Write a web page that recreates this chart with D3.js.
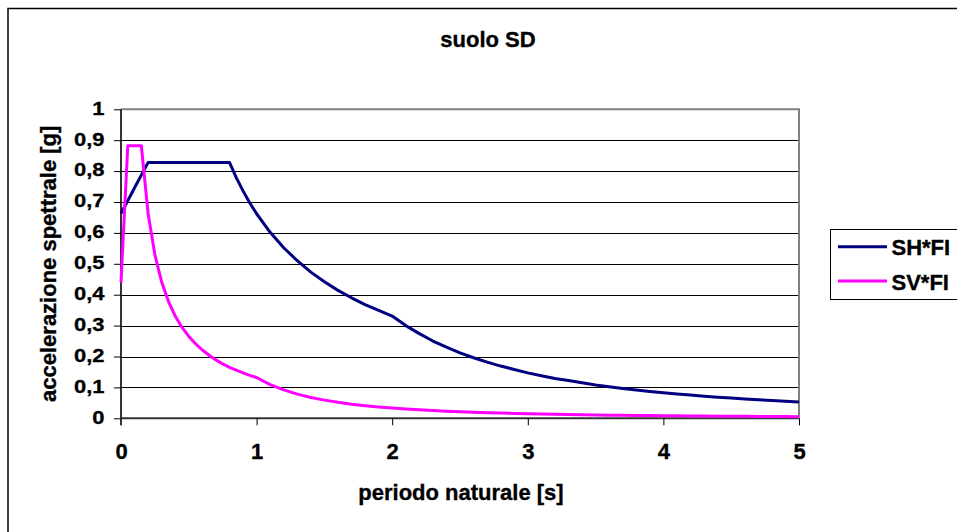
<!DOCTYPE html>
<html>
<head>
<meta charset="utf-8">
<script src="https://cdn.jsdelivr.net/npm/d3@7"></script>
<style>
  html, body { margin: 0; padding: 0; background: #ffffff; }
  svg { display: block; }
  text { font-family: "Liberation Sans", Arial, sans-serif; font-weight: bold; fill: #000; stroke: #000; stroke-width: 0.35px; }
</style>
</head>
<body>
<svg id="chart" width="957" height="532"></svg>
<script>
// ---- data ----
const periods = [0, 0.05, 0.1, 0.15, 0.2, 0.25, 0.3, 0.35, 0.4, 0.45, 0.5, 0.55, 0.6, 0.65, 0.7, 0.75, 0.8, 0.85, 0.9, 0.95, 1.0,
  1.1, 1.2, 1.3, 1.4, 1.5, 1.6, 1.7, 1.8, 1.9, 2.0,
  2.1, 2.2, 2.3, 2.4, 2.5, 2.6, 2.7, 2.8, 2.9, 3.0,
  3.1, 3.2, 3.3, 3.4, 3.5, 3.6, 3.7, 3.8, 3.9, 4.0,
  4.1, 4.2, 4.3, 4.4, 4.5, 4.6, 4.7, 4.8, 4.9, 5.0];

const shFI = [0.663, 0.704, 0.746, 0.787, 0.828, 0.828, 0.828, 0.828, 0.828, 0.828, 0.828, 0.828, 0.828, 0.828, 0.828, 0.828, 0.828, 0.779, 0.736, 0.697, 0.662,
  0.602, 0.552, 0.510, 0.473, 0.442, 0.414, 0.390, 0.368, 0.349, 0.331,
  0.300, 0.274, 0.250, 0.230, 0.212, 0.196, 0.182, 0.169, 0.158, 0.147,
  0.138, 0.129, 0.122, 0.115, 0.108, 0.102, 0.0968, 0.0917, 0.0871, 0.0828,
  0.0788, 0.0751, 0.0716, 0.0684, 0.0654, 0.0626, 0.0600, 0.0575, 0.0552, 0.0530];

const svFI = [0.440, 0.882, 0.882, 0.882, 0.662, 0.529, 0.441, 0.378, 0.331, 0.294, 0.265, 0.241, 0.221, 0.204, 0.189, 0.176, 0.165, 0.156, 0.147, 0.139, 0.132,
  0.109, 0.0919, 0.0783, 0.0675, 0.0588, 0.0517, 0.0458, 0.0408, 0.0366, 0.0331,
  0.0300, 0.0273, 0.0250, 0.0230, 0.0212, 0.0196, 0.0181, 0.0169, 0.0157, 0.0147,
  0.0138, 0.0129, 0.0121, 0.0114, 0.0108, 0.0102, 0.0097, 0.0092, 0.0087, 0.0083,
  0.0079, 0.0075, 0.0072, 0.0068, 0.0065, 0.0063, 0.0060, 0.0057, 0.0055, 0.0053];

const seriesNames = ["SH*FI", "SV*FI"];
const seriesColors = ["#000080", "#ff00ff"];
const xTicks = [0, 1, 2, 3, 4, 5];
const yTicks = [0, 0.1, 0.2, 0.3, 0.4, 0.5, 0.6, 0.7, 0.8, 0.9, 1];
const yTickLabels = ["0", "0,1", "0,2", "0,3", "0,4", "0,5", "0,6", "0,7", "0,8", "0,9", "1"];
const titleText = "suolo SD";
const xTitle = "periodo naturale [s]";
const yTitle = "accelerazione spettrale [g]";

// ---- layout ----
const svg = d3.select("#chart");
const plot = { left: 121, right: 799, top: 109.3, bottom: 418.3 };
const x = d3.scaleLinear().domain([0, 5]).range([plot.left, plot.right]);
const y = d3.scaleLinear().domain([0, 1]).range([plot.bottom, plot.top]);
const FONT = "'Liberation Sans', Arial, sans-serif";

svg.append("rect").attr("x", 0).attr("y", 0).attr("width", 957).attr("height", 532).attr("fill", "#fff");
// outer chart border (continues off-canvas at right/bottom)
svg.append("rect").attr("x", 8).attr("y", 8.5).attr("width", 1000).attr("height", 600)
  .attr("fill", "none").attr("stroke", "#000").attr("stroke-width", 1.5);

// gridlines
svg.append("g").selectAll("line").data(yTicks.filter(d => d > 0 && d < 1)).join("line")
  .attr("x1", plot.left).attr("x2", plot.right)
  .attr("y1", d => Math.round(y(d)) + 0.5).attr("y2", d => Math.round(y(d)) + 0.5)
  .attr("stroke", "#000").attr("stroke-width", 1);

// plot frame top/right (grey)
svg.append("line").attr("x1", plot.left).attr("x2", plot.right + 1).attr("y1", y(1)).attr("y2", y(1))
  .attr("stroke", "#808080").attr("stroke-width", 2);
svg.append("line").attr("x1", plot.right).attr("x2", plot.right).attr("y1", y(1)).attr("y2", plot.bottom)
  .attr("stroke", "#808080").attr("stroke-width", 2);

// axes
const xAxis = d3.axisBottom(x).tickValues(xTicks).tickSize(7).tickFormat(d => d3.format("d")(d));
const gx = svg.append("g").attr("transform", `translate(0,${plot.bottom})`).call(xAxis)
  .attr("font-size", null).attr("font-family", null);
gx.select(".domain").attr("stroke", "#333").attr("stroke-width", 2).attr("d", `M${plot.left},0H${plot.right}`);
gx.selectAll(".tick line").attr("stroke", "#000").attr("stroke-width", 1);
gx.selectAll(".tick text").attr("y", 40.5).attr("dy", 0)
  .attr("font-size", 22).attr("font-family", FONT).attr("font-weight", "bold").attr("fill", "#000");

const yAxis = d3.axisLeft(y).tickValues(yTicks).tickSize(7).tickFormat((d, i) => yTickLabels[i]);
const gy = svg.append("g").attr("transform", `translate(${plot.left},0)`).call(yAxis)
  .attr("font-size", null).attr("font-family", null);
gy.select(".domain").attr("stroke", "#333").attr("stroke-width", 2).attr("d", `M0,${plot.top}V${plot.bottom + 7}`);
gy.selectAll(".tick line").attr("stroke", "#000").attr("stroke-width", 1);
gy.selectAll(".tick text")
  .attr("x", 0).attr("dy", 0).attr("text-anchor", "end")
  .attr("transform", "translate(-16.5,4.8) scale(1,0.845)")
  .attr("font-size", 22).attr("font-family", FONT).attr("font-weight", "bold").attr("fill", "#000");

// series lines
const seriesData = [shFI, svFI];
const line = d3.line().x((d, i) => x(periods[i])).y(d => y(d));
svg.append("g").selectAll("path").data(seriesData).join("path")
  .attr("d", d => line(d))
  .attr("fill", "none")
  .attr("stroke", (d, i) => seriesColors[i])
  .attr("stroke-width", 3)
  .attr("stroke-linejoin", "round");

// titles
svg.append("text").attr("x", 488).attr("y", 46.5).attr("text-anchor", "middle")
  .attr("font-size", 22).text(titleText);
svg.append("text").attr("x", 461).attr("y", 500).attr("text-anchor", "middle")
  .attr("font-size", 22).text(xTitle);
svg.append("text").attr("transform", `translate(56.4,${(plot.top + plot.bottom) / 2}) rotate(-90)`)
  .attr("text-anchor", "middle").attr("font-size", 22).text(yTitle);

// legend
const lg = svg.append("g");
lg.append("rect").attr("x", 830.5).attr("y", 229.5).attr("width", 200).attr("height", 70)
  .attr("fill", "#fff").attr("stroke", "#000").attr("stroke-width", 1);
const legendY = [246.7, 281];
seriesNames.forEach((name, i) => {
  lg.append("line").attr("x1", 838).attr("x2", 887).attr("y1", legendY[i]).attr("y2", legendY[i])
    .attr("stroke", seriesColors[i]).attr("stroke-width", 3);
  lg.append("text").attr("x", 891.5).attr("y", legendY[i] + 8.5).attr("font-size", 22).text(name);
});
</script>
</body>
</html>
